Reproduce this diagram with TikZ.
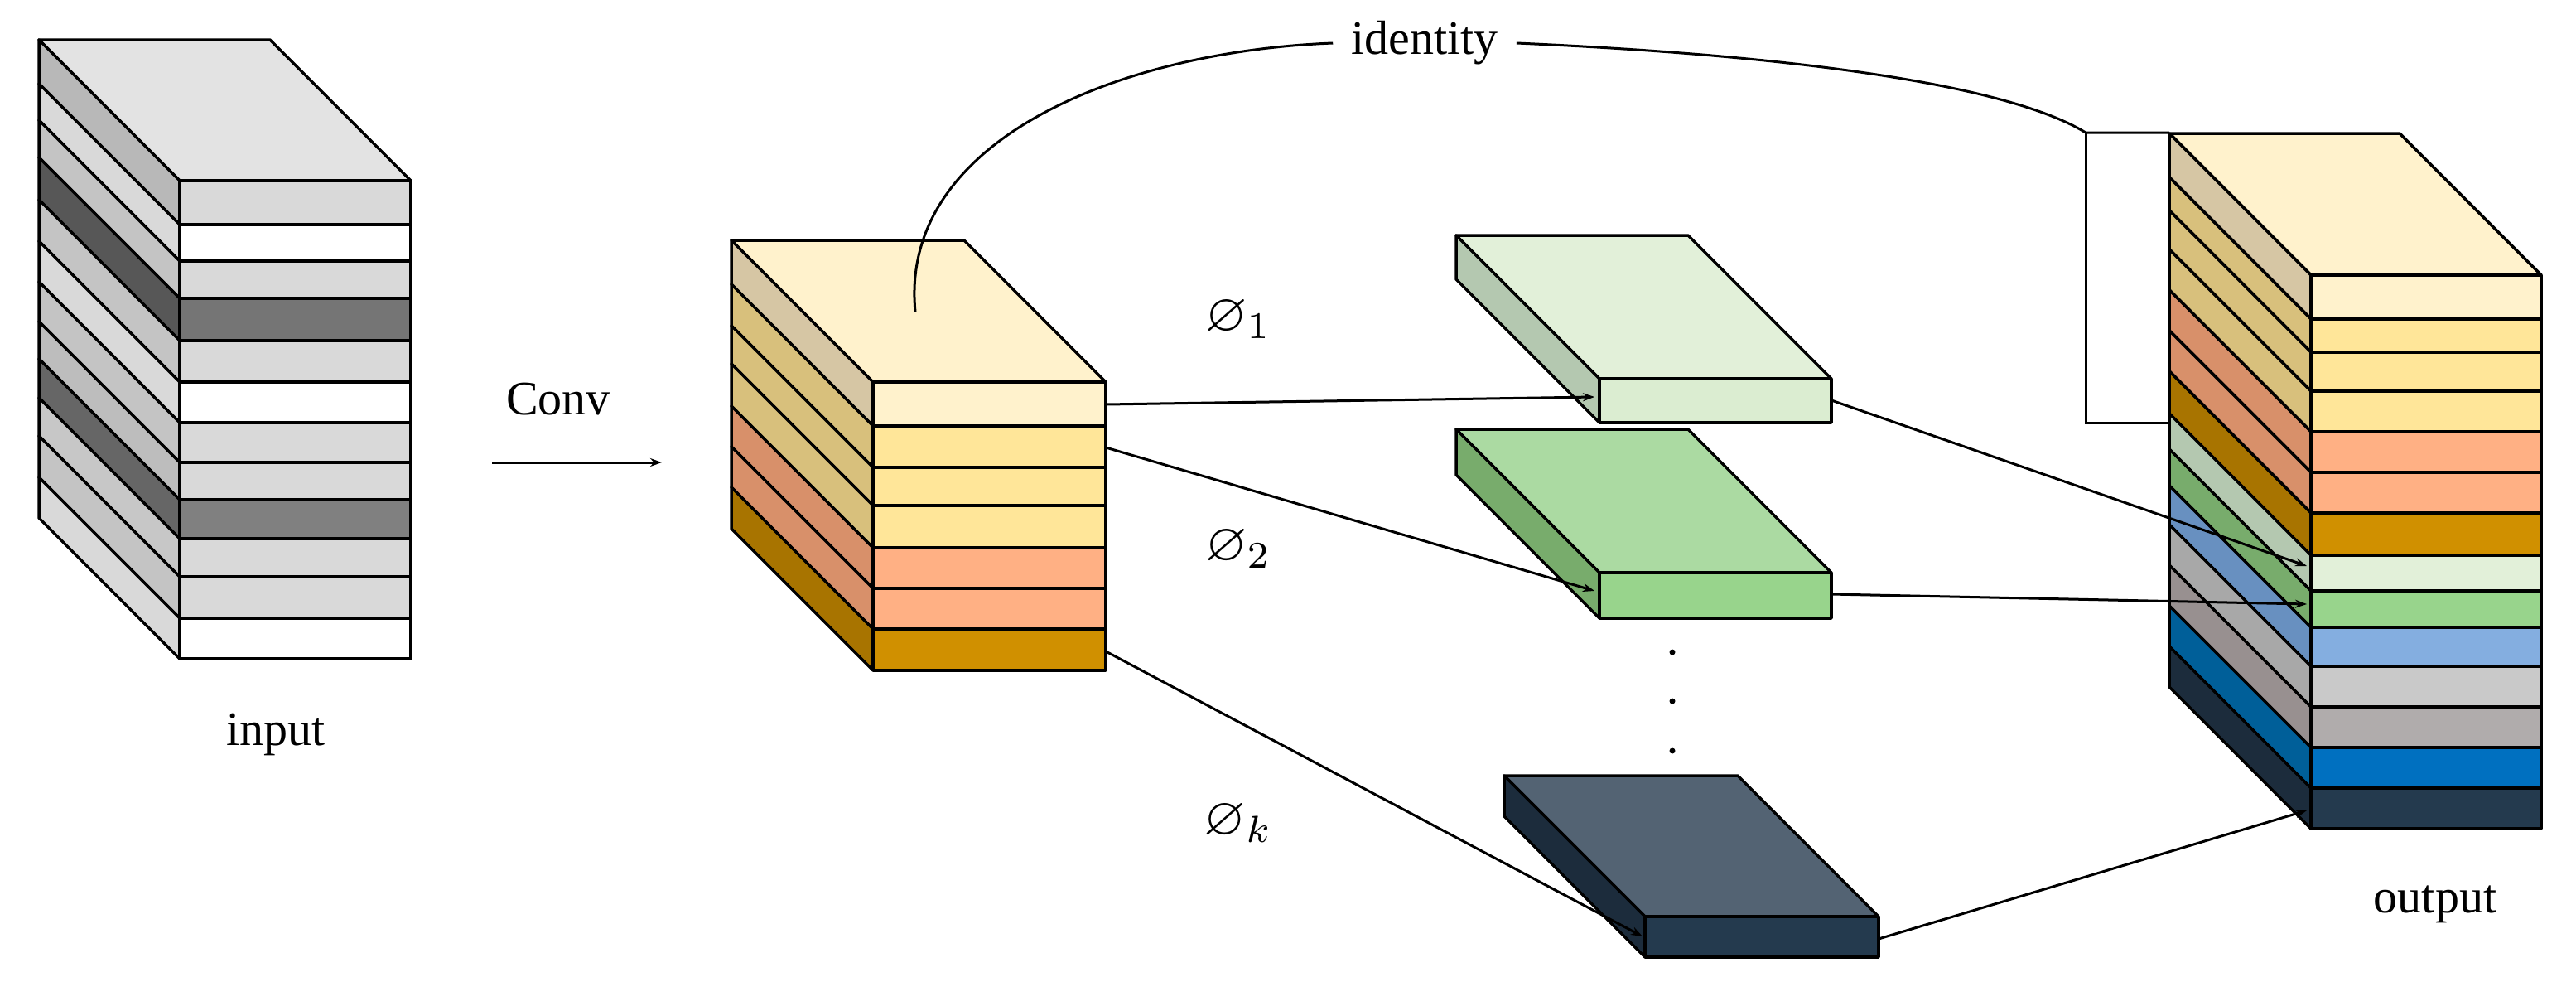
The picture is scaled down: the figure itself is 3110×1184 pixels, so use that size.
\documentclass[tikz,border=0pt]{standalone}
\usepackage{amssymb}
\usepackage{fontspec}
\setmainfont{Liberation Serif}
\usetikzlibrary{arrows.meta}
\definecolor{cream}{HTML}{FFF2CC}\definecolor{creamS}{HTML}{D6C6A4}
\definecolor{yel}{HTML}{FFE699}\definecolor{yelS}{HTML}{D8C07C}
\definecolor{ora}{HTML}{FFB084}\definecolor{oraS}{HTML}{D8906A}
\definecolor{gold}{HTML}{D09000}\definecolor{goldS}{HTML}{A87400}
\definecolor{lg}{HTML}{E2F0D9}\definecolor{lgS}{HTML}{B4C8B0}
\definecolor{mg}{HTML}{98D48C}\definecolor{mgT}{HTML}{ABDAA2}\definecolor{mgS}{HTML}{78AC6C}
\definecolor{bl}{HTML}{84AEE0}\definecolor{blS}{HTML}{6890C0}
\definecolor{g1}{HTML}{C9C9C9}\definecolor{g1S}{HTML}{A8A8A8}
\definecolor{g2}{HTML}{B0ACAC}\definecolor{g2S}{HTML}{989090}
\definecolor{db}{HTML}{0070C0}\definecolor{dbS}{HTML}{005F99}
\definecolor{nv}{HTML}{243A4E}\definecolor{nvT}{HTML}{536373}\definecolor{nvS}{HTML}{1C2C3C}
\definecolor{ig}{HTML}{D9D9D9}\definecolor{igT}{HTML}{E3E3E3}
\tikzset{face/.style={draw=black,line width=3.5pt,line join=round},
 conn/.style={line width=3pt},
 arr/.style={conn,-{Stealth[length=14pt,width=10pt]}},
 lbl/.style={font=\fontsize{58}{60}\selectfont,inner sep=0pt},
 phi/.style={inner sep=0pt}}
\newcommand\phil[1]{\scalebox{6.5}{$\varnothing_{#1}$}}
% layer: front-left x, width, depth, y1, y2, front colour, side colour
\newcommand\lay[7]{%
 \fill[#7,face] (#1,#4)--(#1,#5)--({#1-#3},{#5-#3})--({#1-#3},{#4-#3})--cycle;
 \fill[#6,face] (#1,#4) rectangle ({#1+#2},#5);}
\newcommand\topf[5]{%
 \fill[#5,face] (#1,#4)--({#1-#3},{#4-#3})--({#1+#2-#3},{#4-#3})--({#1+#2},#4)--cycle;}
\begin{document}
\begin{tikzpicture}[x=1pt,y=-1pt]
\useasboundingbox (0,0) rectangle (3110,1184);
% input block
\topf{217}{279}{170}{218}{igT}
\foreach \a/\b/\f/\s in {218/271/ig/black!28,271/315/white/ig,315/360/ig/black!23,360/411/black!54/black!66,411/461/ig/black!23,461/510/white/ig,510/558/ig/black!23,558/603/ig/black!26,603/650/black!50/black!60,650/696/ig/black!22,696/746/ig/black!23,746/795/white/ig}
 {\lay{217}{279}{170}{\a}{\b}{\f}{\s}}
\node[lbl] (input) at (333,886) {input};
\node[lbl] (conv) at (674,482) {Conv};
\coordinate (ca) at (594,558); \coordinate (cb) at (799,558);
\draw[arr] (ca) -- (cb);
% middle block
\topf{1054}{281}{171}{461}{cream}
\foreach \a/\b/\f/\s in {461/514/cream/creamS,514/564/yel/yelS,564/610/yel/yelS,610/661/yel/yelS,661/710/ora/oraS,710/759/ora/oraS,759/809/gold/goldS}
 {\lay{1054}{281}{171}{\a}{\b}{\f}{\s}}
% output block
\topf{2790}{278}{171}{332}{cream}
\foreach \a/\b/\f/\s in {332/385/cream/creamS,385/425/yel/yelS,425/472/yel/yelS,472/521/yel/yelS,521/570/ora/oraS,570/619/ora/oraS,619/670/gold/goldS,670/713/lg/lgS,713/757/mg/mgS,757/804/bl/blS,804/853/g1/g1S,853/902/g2/g2S,902/951/db/dbS,951/1000/nv/nvS}
 {\lay{2790}{278}{171}{\a}{\b}{\f}{\s}}
\node[lbl] (output) at (2940,1091) {output};
% slabs
\topf{1931}{280}{173}{457}{lg}\lay{1931}{280}{173}{457}{510}{lg!90!mg}{lgS}
\topf{1931}{280}{173}{691}{mgT}\lay{1931}{280}{173}{691}{746}{mg}{mgS}
\topf{1986}{282}{170}{1106}{nvT}\lay{1986}{282}{170}{1106}{1155}{nv}{nvS}
\foreach \yy in {787,846,906} \fill (2019,\yy) circle (3.5pt);
% labels
\node[phi] (p1) at (1495,385) {\phil{1}};
\node[phi] (p2) at (1495,662) {\phil{2}};
\node[phi] (pk) at (1495,993) {\phil{k}};
% connectors
\coordinate (m1) at (1335,488); \coordinate (m2) at (1335,540); \coordinate (m3) at (1335,786);
\coordinate (s1i) at (1925,479); \coordinate (s2i) at (1925,713); \coordinate (s3i) at (1983,1130);
\coordinate (s1o) at (2211,483); \coordinate (s2o) at (2211,717); \coordinate (s3o) at (2268,1133);
\coordinate (o1) at (2785,683); \coordinate (o2) at (2785,729); \coordinate (o3) at (2785,978);
\draw[arr] (m1)--(s1i); \draw[arr] (m2)--(s2i); \draw[arr] (m3)--(s3i);
\draw[arr] (s1o)--(o1); \draw[arr] (s2o)--(o2); \draw[arr] (s3o)--(o3);
% identity
\node[lbl,inner xsep=22pt] (id) at (1720,52) {identity};
\coordinate (is) at (1105,376); \coordinate (bt) at (2518,160); \coordinate (bb) at (2518,510);
\coordinate (bt2) at (2619,160); \coordinate (bb2) at (2619,510);
\draw[conn] (is) .. controls (1085,170) and (1350,62) .. (id.west);
\draw[conn] (id.east) .. controls (2150,66) and (2420,100) .. (bt) -- (bt2);
\draw[conn] (bt) -- (bb) -- (bb2);
\end{tikzpicture}
\end{document}
